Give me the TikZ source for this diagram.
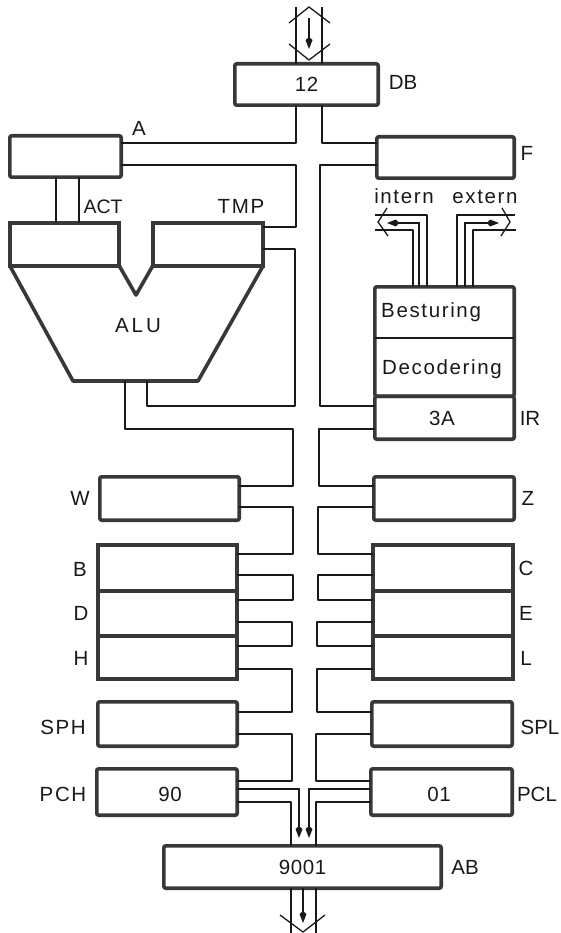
\documentclass[tikz,border=0pt]{standalone}
\usepackage{fontspec}
\setmainfont{Liberation Sans}
\usetikzlibrary{arrows.meta}
\definecolor{ink}{gray}{0.1}
\definecolor{boxink}{gray}{0.22}
\newcommand{\lblfont}{\fontsize{20.5}{20.5}\selectfont}
\tikzset{
  regbox/.style={draw=boxink,line width=3.6pt,rounded corners=2pt,inner sep=0pt,outer sep=0pt},
  stacked/.style={sharp corners},
  wire/.style={draw=ink,line width=1.7pt,line join=round},
  flow/.style={draw=ink,line width=1.3pt,-{Kite[length=12pt,width=7pt,inset=3pt]}},
  chevron/.style={draw=ink,line width=1.3pt},
  lbl/.style={inner sep=0pt,text=ink,font=\lblfont,text height=14.7pt,text depth=0pt},
  digits/.style={lbl,font=\lblfont\addfontfeatures{LetterSpace=3}},
  wide/.style={lbl,font=\lblfont\addfontfeatures{LetterSpace=8}}
}
\newcommand{\regbox}[7][]{\node[regbox,digits,#1,minimum width={(#5-#3-3.6)*1pt},minimum height={(#6-#4-3.6)*1pt}] (#2) at ({(#3+#5)/2},{(#4+#6)/2}) {#7};}
\begin{document}
\begin{tikzpicture}[x=1pt,y=-1pt]
\useasboundingbox (0,0) rectangle (561,933);
% registers
\regbox{DB}{233}{62}{380}{107}{12}
\regbox{Freg}{375}{135}{516}{180}{}
\regbox{Areg}{8}{134}{123}{179}{}
\regbox[stacked]{ACT}{8}{221}{121}{267.5}{}
\regbox[stacked]{TMP}{151}{221}{265}{267.5}{}
\regbox{CU}{373}{285}{516}{398}{}
\regbox{IR}{373}{394.5}{516}{441}{}
\regbox{W}{98}{475}{241}{522}{}
\regbox{Z}{372}{475}{516}{522}{}
\regbox[stacked]{B}{96}{543}{239}{592.5}{}
\regbox[stacked]{D}{96}{589.5}{239}{637.5}{}
\regbox[stacked]{H}{96}{634.5}{239}{681}{}
\regbox[stacked]{C}{371}{543}{515}{592.5}{}
\regbox[stacked]{E}{371}{589.5}{515}{637.5}{}
\regbox[stacked]{L}{371}{634.5}{515}{681}{}
\regbox{SPH}{96}{700}{239}{748}{}
\regbox{SPL}{370}{700}{514}{748}{}
\regbox{PCH}{95}{767}{239}{817}{}
\regbox{PCL}{369}{767}{514}{817}{}
\regbox{AB}{162}{844}{443}{890}{9001}
\draw[wire] (CU.west |- 0,338) -- (CU.east |- 0,338);
% ALU
\draw[boxink,line width=3.6pt,line join=round] (9.8,265.7) -- (73,381) -- (198,381) -- (263.2,265.7) (119.2,265.7) -- (136,295) -- (152.8,265.7);
\coordinate (alul) at (125,381);
\coordinate (alur) at (147,381);
\node[lbl,font=\lblfont\addfontfeatures{LetterSpace=14}] (alutext) at (138,325) {ALU};
% labels
\node[lbl] (tDB) at (403,82) {DB};
\node[lbl] (tF) at (527,153) {F};
\node[lbl] (tA) at (139,128) {A};
\node[lbl,font=\fontsize{19.5}{19.5}\selectfont] (tACT) at (103,206) {ACT};
\node[wide] (tTMP) at (241,206) {TMP};
\node[wide] (tint) at (404,196) {intern};
\node[wide] (text) at (485,196) {extern};
\node[wide,anchor=west] (tBest) at (381,310) {Besturing};
\node[wide,anchor=west] (tDeco) at (382,367) {Decodering};
\node[digits] (t3A) at (442,418) {3A};
\node[lbl] (tIR) at (530,418) {IR};
\node[lbl] (tW) at (80,498) {W};
\node[lbl] (tB) at (80,569) {B};
\node[lbl] (tD) at (81,613) {D};
\node[lbl] (tH) at (81,658) {H};
\node[lbl] (tZ) at (528,498) {Z};
\node[lbl] (tC) at (526,568) {C};
\node[lbl] (tE) at (526,613) {E};
\node[lbl] (tL) at (526,658) {L};
\node[wide] (tSPH) at (63,727) {SPH};
\node[wide] (tPCH) at (63,794) {PCH};
\node[digits] (t90) at (170,794) {90};
\node[digits] (t01) at (439,794) {01};
\node[lbl] (tSPL) at (540,727) {SPL};
\node[lbl] (tPCL) at (537,794) {PCL};
\node[lbl] (tAB) at (465,867) {AB};
% bus: top
\draw[wire] (DB.north -| 296,0) -- (296,7);
\draw[wire] (DB.north -| 322,0) -- (322,7);
\draw[chevron] (289,23) -- (309,7) -- (330,23);
\draw[chevron] (289,44) -- (309,60) -- (330,44);
\draw[flow] (309,18) -- (309,49);
% A and F
\draw[wire] (Areg.east |- 0,143) -- (296,143) -- (DB.south -| 296,0);
\draw[wire] (Freg.west |- 0,143) -- (322,143) -- (DB.south -| 322,0);
\draw[wire] (Areg.east |- 0,165) -- (296,165) -- (296,227) -- (TMP.east |- 0,227);
\draw[wire] (Freg.west |- 0,165) -- (320,165) -- (320,406) -- (IR.west |- 0,406);
\draw[wire] (ACT.north -| 56,0) -- (Areg.south -| 56,0);
\draw[wire] (ACT.north -| 79,0) -- (Areg.south -| 79,0);
\draw[wire] (TMP.east |- 0,249) -- (295,249) -- (295,406) -- (147,406) -- (alur);
\draw[wire] (alul) -- (125,429) -- (293,429) -- (293,486) -- (W.east |- 0,486);
\draw[wire] (IR.west |- 0,429) -- (319,429) -- (319,486) -- (Z.west |- 0,486);
% left side
\draw[wire] (W.east |- 0,507) -- (293,507) -- (293,554) -- (B.east |- 0,554);
\draw[wire] (B.east |- 0,575) -- (293,575) -- (293,600) -- (D.east |- 0,600);
\draw[wire] (D.east |- 0,622) -- (292,622) -- (292,646) -- (H.east |- 0,646);
\draw[wire] (H.east |- 0,669) -- (292,669) -- (292,712) -- (SPH.east |- 0,712);
\draw[wire] (SPH.east |- 0,734) -- (292,734) -- (292,781) -- (PCH.east |- 0,781);
\draw[wire] (PCH.east |- 0,802) -- (291,802) -- (AB.north -| 291,0);
\draw[flow] (PCH.east |- 0,789) -- (299,789) -- (299,838);
% right side
\draw[wire] (Z.west |- 0,507) -- (318,507) -- (318,554) -- (C.west |- 0,554);
\draw[wire] (C.west |- 0,575) -- (318,575) -- (318,600) -- (E.west |- 0,600);
\draw[wire] (E.west |- 0,622) -- (317,622) -- (317,646) -- (L.west |- 0,646);
\draw[wire] (L.west |- 0,669) -- (317,669) -- (317,712) -- (SPL.west |- 0,712);
\draw[wire] (SPL.west |- 0,734) -- (316,734) -- (316,781) -- (PCL.west |- 0,781);
\draw[wire] (PCL.west |- 0,802) -- (316,802) -- (AB.north -| 316,0);
\draw[flow] (PCL.west |- 0,789) -- (309,789) -- (309,838);
% bus: bottom
\draw[wire] (AB.south -| 291,0) -- (291,933);
\draw[wire] (AB.south -| 316,0) -- (316,933);
\draw[flow] (AB.south -| 303,0) -- (303,923);
\draw[chevron] (280,915) -- (303,932) -- (325,915);
% intern
\draw[wire] (CU.north -| 427,0) -- (427,215) -- (375,215);
\draw[wire] (CU.north -| 413,0) -- (413,230) -- (375,230);
\draw[flow] (CU.north -| 419,0) -- (419,223) -- (387,223);
\draw[chevron] (387,208) -- (378,222) -- (388,236);
% extern
\draw[wire] (CU.north -| 457,0) -- (457,215) -- (515,215);
\draw[wire] (CU.north -| 473,0) -- (473,230) -- (516,230);
\draw[flow] (CU.north -| 465,0) -- (465,223) -- (499,223);
\draw[chevron] (502,208) -- (510,222) -- (501,236);
\end{tikzpicture}
\end{document}
